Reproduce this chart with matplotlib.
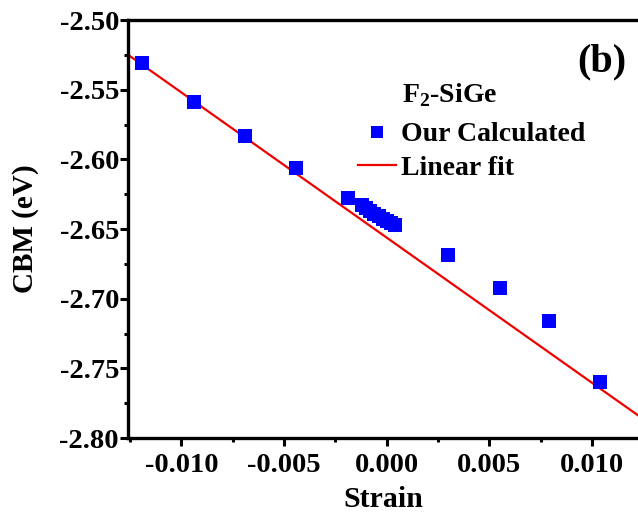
import numpy as np
import matplotlib.pyplot as plt
from matplotlib.ticker import MultipleLocator, FormatStrFormatter

plt.rcParams['font.family'] = ['Liberation Serif', 'DejaVu Serif']
plt.rcParams['font.weight'] = 'bold'
plt.rcParams['mathtext.fontset'] = 'custom'
plt.rcParams['mathtext.rm'] = 'Liberation Serif:bold'

# strain vs CBM
strain = [-0.0119, -0.0094, -0.0069, -0.0044, -0.0019,
          -0.0012, -0.0010, -0.0008, -0.0006, -0.0004, -0.0002, 0.0000, 0.0002, 0.0004,
          0.0030, 0.0055, 0.0079, 0.0104]
cbm = [-2.531, -2.559, -2.583, -2.606, -2.628,
       -2.633, -2.635, -2.637, -2.639, -2.641, -2.643, -2.644, -2.646, -2.647,
       -2.669, -2.692, -2.716, -2.760]

# linear fit coefficients (slope, intercept) as drawn
fit_slope = -10.42
fit_intercept = -2.6562

fig = plt.figure(figsize=(6.38, 5.18), dpi=100)
ax = fig.add_axes([128/638, 80/518, 1 - 128/638 + 0.002, 418/518])

xlim = (-0.0126, 0.0123)
xf = np.array(xlim)
ax.plot(xf, fit_slope*xf + fit_intercept, color='#ee0000', lw=1.6, label='Linear fit', zorder=2)
ax.plot(strain, cbm, 's', color='#0000ff', ms=9.5, mew=0, label='Our Calculated', zorder=3)

ax.set_xlim(*xlim)
ax.set_ylim(-2.80, -2.50)

ax.xaxis.set_major_locator(MultipleLocator(0.005))
ax.xaxis.set_minor_locator(MultipleLocator(0.0025))
ax.yaxis.set_major_locator(MultipleLocator(0.05))
ax.yaxis.set_minor_locator(MultipleLocator(0.025))
ax.xaxis.set_major_formatter(FormatStrFormatter('%.3f'))
ax.yaxis.set_major_formatter(FormatStrFormatter('%.2f'))

for s in ['left', 'bottom', 'top']:
    ax.spines[s].set_linewidth(2.4)
ax.spines['right'].set_visible(False)
ax.tick_params(which='major', direction='out', length=5.5, width=2.2, labelsize=20.5)
ax.tick_params(axis='y', which='major', pad=1)
ax.tick_params(axis='x', which='major', pad=5)
ax.tick_params(which='minor', direction='out', length=3, width=2.2)
ax.tick_params(top=False, right=False, which='both')

ax.set_xlabel('Strain', fontsize=21.5, fontweight='bold', labelpad=6)
ax.set_ylabel('CBM (eV)', fontsize=21, fontweight='bold', labelpad=15)

ax.text(0.982, 1 - 62/518, '(b)', transform=fig.transFigure, fontsize=29, fontweight='bold',
        ha='right', va='center')
ax.text(402/638, 1 - 95/518, r'F$_2$-SiGe', transform=fig.transFigure, fontsize=20,
        fontweight='bold', ha='left', va='center')

handles, labels = ax.get_legend_handles_labels()
leg = ax.legend(handles[::-1], labels[::-1], loc='upper left',
                bbox_to_anchor=(358/638, 1 - 122/518), bbox_transform=fig.transFigure,
                frameon=False, fontsize=20, handlelength=1.35, handletextpad=0.2,
                labelspacing=0.28, borderpad=0, borderaxespad=0, markerscale=0.95)
for t in leg.get_texts():
    t.set_fontweight('bold')

fig.savefig('out.png', dpi=100)
